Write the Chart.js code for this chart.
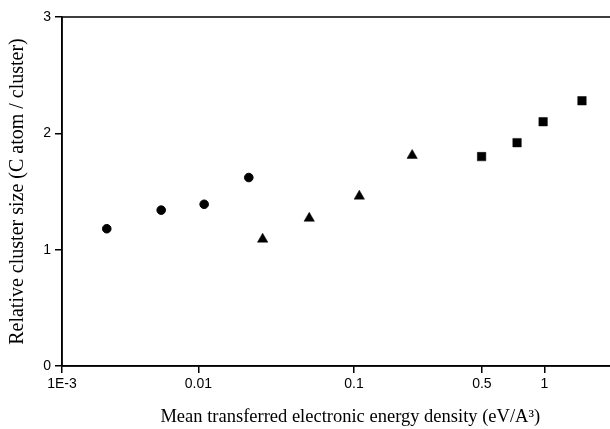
<!DOCTYPE html>
<html>
<head>
<meta charset="utf-8">
<script src="https://cdn.jsdelivr.net/npm/chart.js"></script>
<style>
  html, body { margin: 0; padding: 0; background: #fff; overflow: hidden; width: 610px; height: 429px; }
  #wrap { width: 645px; height: 429px; }
</style>
</head>
<body>
<div id="wrap"><canvas id="c" width="645" height="429"></canvas></div>
<script>
// ---- data ----
const circleX = [0.00213, 0.00534, 0.0109, 0.0211];
const circleY = [1.18, 1.34, 1.39, 1.62];
const triangleX = [0.0259, 0.0516, 0.107, 0.208];
const triangleY = [1.09, 1.27, 1.46, 1.81];
const squareX = [0.498, 0.738, 0.985, 1.55];
const squareY = [1.80, 1.92, 2.10, 2.28];
const xTickValues = [0.001, 0.01, 0.1, 0.5, 1];
const xTickLabels = ['1E-3', '0.01', '0.1', '0.5', '1'];
const yTickValues = [0, 1, 2, 3];

// logarithmic axis whose decades are unevenly stretched, as in the original figure
class WarpLogScale extends Chart.LogarithmicScale {
  _knots() { return this.options.knots; }
  getPixelForValue(value) {
    const k = this._knots();
    const l = Math.log10(value);
    let i = 0;
    while (i < k.length - 2 && l > Math.log10(k[i + 1][0])) i++;
    const l0 = Math.log10(k[i][0]), l1 = Math.log10(k[i + 1][0]);
    const f = k[i][1] + (l - l0) / (l1 - l0) * (k[i + 1][1] - k[i][1]);
    return this.getPixelForDecimal(f);
  }
  getValueForPixel(pixel) {
    const k = this._knots();
    const f = this.getDecimalForPixel(pixel);
    let i = 0;
    while (i < k.length - 2 && f > k[i + 1][1]) i++;
    const l0 = Math.log10(k[i][0]), l1 = Math.log10(k[i + 1][0]);
    return Math.pow(10, l0 + (f - k[i][1]) / (k[i + 1][1] - k[i][1]) * (l1 - l0));
  }
}
WarpLogScale.id = 'warplog';
WarpLogScale.defaults = {};
Chart.register(WarpLogScale);

const frame = {
  id: 'frame',
  afterDatasetsDraw(chart) {
    const { ctx, chartArea: a } = chart;
    ctx.save();
    ctx.strokeStyle = '#000';
    ctx.lineWidth = 1.5;
    ctx.strokeRect(a.left, a.top, a.right - a.left, a.bottom - a.top);
    ctx.restore();
  }
};

function pts(xs, ys) { return xs.map((x, i) => ({ x: x, y: ys[i] })); }

const tickFont = { family: "'Liberation Sans', Arial, sans-serif", size: 14 };
const xTitleFont = { family: "'Liberation Serif', 'Times New Roman', serif", size: 18.5 };
const yTitleFont = { family: "'Liberation Serif', 'Times New Roman', serif", size: 20 };

new Chart(document.getElementById('c'), {
  type: 'scatter',
  data: {
    datasets: [
      { data: pts(circleX, circleY), pointStyle: 'circle', pointRadius: 4.3, borderWidth: 1,
        backgroundColor: '#000', borderColor: '#000' },
      { data: pts(triangleX, triangleY), pointStyle: 'triangle', pointRadius: 6, borderWidth: 0.5,
        backgroundColor: '#000', borderColor: '#000' },
      { data: pts(squareX, squareY), pointStyle: 'rect', pointRadius: 6, borderWidth: 0.5,
        backgroundColor: '#000', borderColor: '#000' }
    ]
  },
  options: {
    responsive: false,
    animation: false,
    layout: { padding: { top: 17, right: 0.5, bottom: 0, left: 0 } },
    plugins: { legend: { display: false }, tooltip: { enabled: false } },
    scales: {
      x: {
        type: 'warplog',
        min: 0.001,
        max: 3,
        knots: [[0.001, 0], [0.01, 0.2365], [0.1, 0.5064], [0.5, 0.7284], [1, 0.8369], [3, 1]],
        afterBuildTicks(scale) { scale.ticks = xTickValues.map(v => ({ value: v })); },
        afterFit(scale) { scale.height = 63; },
        ticks: {
          autoSkip: false, maxRotation: 0, minRotation: 0, padding: 3,
          color: '#000', font: tickFont,
          callback(value) { const i = xTickValues.indexOf(value); return i >= 0 ? xTickLabels[i] : ''; }
        },
        grid: { drawOnChartArea: false, tickLength: 7, color: '#000', lineWidth: 1.5 },
        border: { color: '#000', width: 1.5 },
        title: {
          display: true,
          text: 'Mean transferred electronic energy density (eV/A\u00B3)',
          color: '#000', font: xTitleFont, padding: { top: 0, bottom: 1 }
        }
      },
      y: {
        type: 'linear',
        min: 0, max: 3,
        afterBuildTicks(scale) { scale.ticks = yTickValues.map(v => ({ value: v })); },
        afterFit(scale) { scale.width = 62; },
        ticks: { color: '#000', font: tickFont, padding: 4 },
        grid: { drawOnChartArea: false, tickLength: 7, color: '#000', lineWidth: 1.5 },
        border: { color: '#000', width: 1.5 },
        title: {
          display: true,
          text: 'Relative cluster size (C atom / cluster)',
          color: '#000', font: yTitleFont, padding: { top: 6, bottom: 0 }
        }
      }
    }
  },
  plugins: [frame]
});
</script>
</body>
</html>
